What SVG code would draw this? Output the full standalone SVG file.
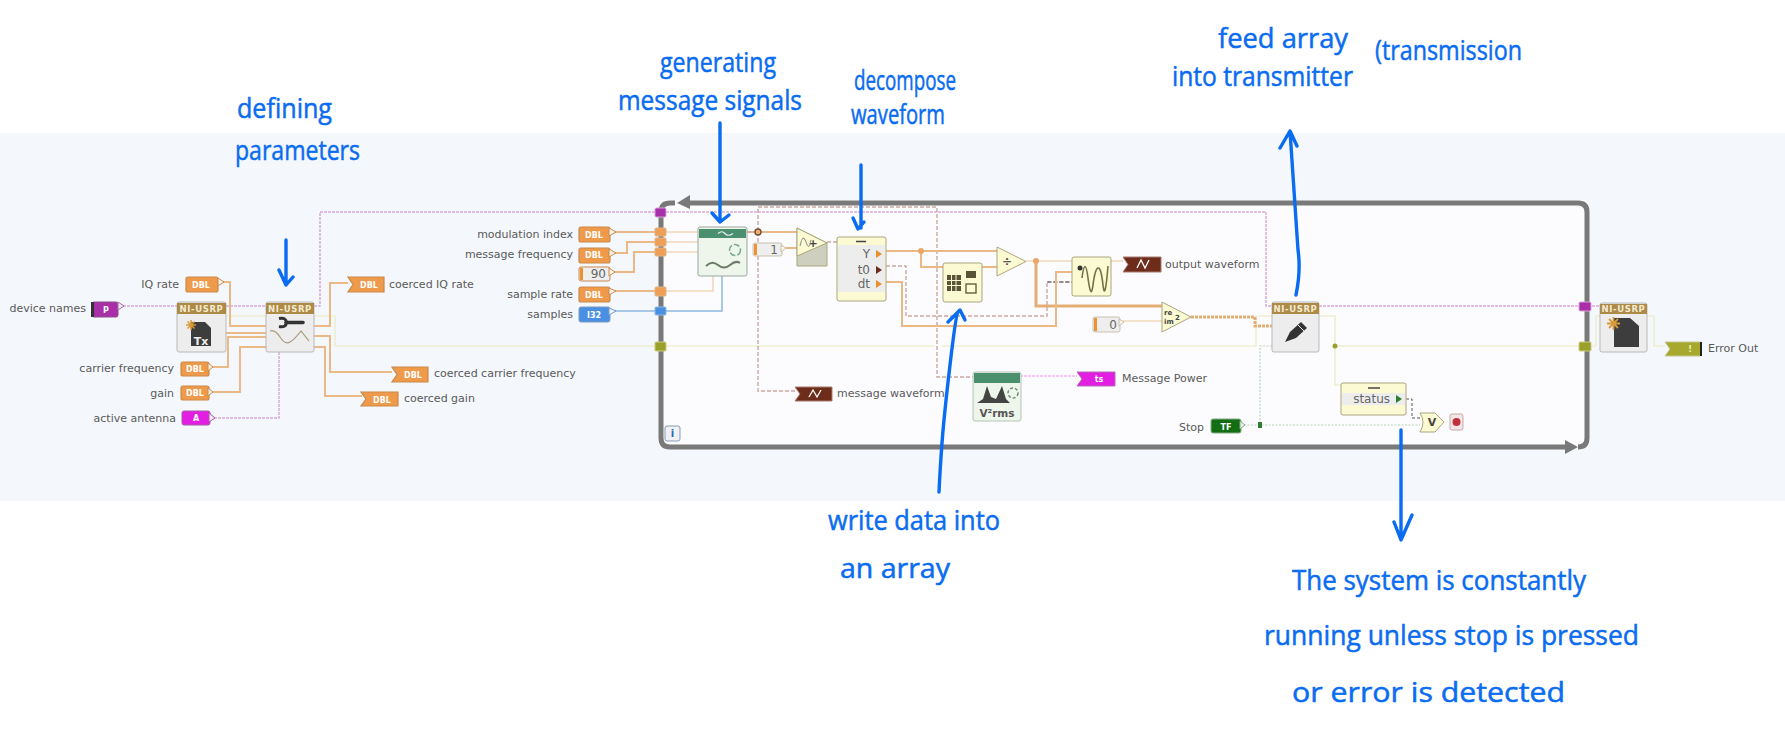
<svg xmlns="http://www.w3.org/2000/svg" width="1785" height="756" viewBox="0 0 1785 756">
<style>
.lb{font:11px "DejaVu Sans",sans-serif;fill:#5a5a5a}
.ctl{stroke-width:1.2}
.o{fill:#ee9a4a;stroke:#c98a4c}
.ct{font:bold 8px "DejaVu Sans",sans-serif;fill:#fff;text-anchor:middle}
.w{fill:none}
.or{stroke:#ebb985;stroke-width:2}
.or2{stroke:#e4ad74;stroke-width:3}
.ol{stroke:#f0d8bc;stroke-width:1.6}
.pu{stroke:#dcaadc;stroke-width:1.5;stroke-dasharray:3 1}
.ye{stroke:#eeeed2;stroke-width:1.6}
.br{stroke:#c9a8a0;stroke-width:1.4;stroke-dasharray:4 2}
.gr{stroke:#b7d4b7;stroke-width:1.2;stroke-dasharray:2 1.5}
.bl{stroke:#8fb6e0;stroke-width:1.5}
.hd{fill:#ad8b46}
.ht{font:bold 8.5px "DejaVu Sans",sans-serif;fill:#f4ead2;text-anchor:middle;letter-spacing:.6px}
.nd{fill:#ededed;stroke:#b9b9b9}
.yl{fill:#fbfad2;stroke:#a9a67e}
.hw{font:27px "Open Sans",sans-serif;fill:#0a6cf0;stroke:#0a6cf0;stroke-width:.5}
.ar{fill:none;stroke:#0a6cf0;stroke-width:3.4;stroke-linecap:round;stroke-linejoin:round}
.rw{font:12px "DejaVu Sans",sans-serif;fill:#666;text-anchor:end}
.tn{stroke:#e0b388;stroke-width:1;fill:#ee9f55}
</style>
<rect width="1785" height="756" fill="#fff"/>
<rect y="133" width="1785" height="368" fill="#f4f7fb"/>
<g id="loop">
<rect x="660" y="200" width="927" height="247" fill="#fcfcfe"/>
<path d="M675 203H670Q661 203 661 212V438Q661 447 670 447H1570M1578 447Q1587 447 1587 438V212Q1587 203 1578 203H690" fill="none" stroke="#797979" stroke-width="5"/>
<polygon points="677,203 690,195 690,209" fill="#797979"/>
<polygon points="1578,447 1565,440 1565,454" fill="#797979"/>
<rect x="665" y="426" width="15" height="15" rx="2" fill="#eef1f6" stroke="#8a9ab0"/>
<text x="672.5" y="437" style="font:bold 10px 'DejaVu Sans',sans-serif;fill:#2a66b0;text-anchor:middle">i</text>
</g>
<g id="connectors" class="w">
<path class="pu" d="M123 306H177M226 306H266M314 306H320V212H655"/>
<path class="pu" d="M666 212H1266V306H1272M1319 306H1579M1592 306H1600"/>
<path class="pu" d="M279 352V418H214"/>
<path class="ye" d="M226 316H266M314 316H335V346H655M666 346H935M942 346H1256V316H1272M1319 316H1335V385H1341M1335 346H1579M1592 346H1596V316H1600M1647 316H1654V346H1665"/>
<path class="or" d="M223 282H230V326H266M226 333H266M212 367H228V337H266M212 392H240V347H266"/>
<path class="or" d="M314 326H330V283H348M314 336H330V372H392M314 347H325V396H362"/>
<path class="or" d="M610 232H655M610 253H627V242H655M610 272H634V252H655M610 291H655"/>
<path class="ol" d="M666 232H698M666 242H698M666 252H698M666 291H713V276"/>
<path class="bl" d="M610 311H655M666 311H722V276"/>
<path class="or" d="M747 232H797M785 248H797"/>
<path class="br" d="M747 232H758V207H937V377H973M758 232V391H795M827 242H837"/>
<circle cx="758" cy="232" r="3" fill="#e8b27a" stroke="#7a4a33" stroke-width="1.4"/>
<path class="or" d="M886 251H997M921 251V267H943M982 267H997"/>
<circle cx="921" cy="251" r="3" fill="#e9a868"/>
<path class="ol" d="M1026 261H1072"/>
<path class="or2" d="M1036 261V306H1162"/>
<circle cx="1036" cy="261" r="3" fill="#e9a868"/>
<path class="br" d="M886 266H906V316H1047V282H1072"/>
<path d="M1047 282H1072" stroke="#555" stroke-width="1" stroke-dasharray="4 2"/>
<path class="or" d="M886 282H902V326H1056V272H1072"/>
<path class="ol" d="M1111 261H1123M1123 321H1162"/>
<path class="or2" stroke-dasharray="3 1" d="M1191 317H1255V326H1272"/>
<path class="pu" style="stroke:#f0b4f0" d="M1020 376H1077"/>
<path class="gr" d="M1272 346H1260V425"/>
<path class="gr" d="M1244 425H1420"/>
<rect x="1258" y="422" width="4" height="6" fill="#2e7d32"/>
<path d="M1406 399H1412V418H1422" fill="none" stroke="#555" stroke-width="1" stroke-dasharray="3 2"/>
<circle cx="1335" cy="346" r="2.5" fill="#9aa02a"/>
</g>
<g id="tunnels">
<rect x="655" y="208" width="11" height="9" rx="1.5" fill="#a82fa8" stroke="#d9a0d9"/>
<rect class="tn" x="655" y="228" width="11" height="8" rx="1"/>
<rect class="tn" x="655" y="238" width="11" height="8" rx="1"/>
<rect class="tn" x="655" y="248" width="11" height="8" rx="1"/>
<rect class="tn" x="655" y="287" width="11" height="9" rx="1"/>
<rect x="655" y="307" width="11" height="8" rx="1" fill="#4a90e2" stroke="#8fb6e0"/>
<rect x="655" y="342" width="11" height="9" rx="1" fill="#9aa02a" stroke="#c9cc80"/>
<rect x="1579" y="302" width="12" height="9" rx="1.5" fill="#a82fa8" stroke="#d9a0d9"/>
<rect x="1579" y="342" width="12" height="9" rx="1" fill="#9aa02a" stroke="#c9cc80"/>
</g>
<g id="n-device-names"><text class="lb" x="86" y="312" text-anchor="end">device names</text><rect x="92" y="302" width="26" height="15" rx="2" fill="#a82fa8" stroke="#8d4f8d"/><rect x="91" y="302" width="3" height="15" fill="#333"/><polygon points="118,302 124,306 118,310" fill="#f3e9f3" stroke="#a76aa7"/><text class="ct" x="106" y="313">P</text></g>
<g id="n-iq-rate"><text class="lb" x="179" y="288" text-anchor="end">IQ rate</text><rect class="ctl o" x="186" y="277" width="32" height="15" rx="2"/><polygon points="218,278 224,282 218,286" fill="#fdf3e6" stroke="#c98a4c"/><text class="ct" x="201" y="288">DBL</text></g>
<g id="n-carrier"><text class="lb" x="174" y="372" text-anchor="end">carrier frequency</text><rect class="ctl o" x="181" y="362" width="28" height="14" rx="2"/><polygon points="208,363 213,367 208,371" fill="#fdf3e6" stroke="#c98a4c"/><text class="ct" x="195" y="372">DBL</text></g>
<g id="n-gain"><text class="lb" x="174" y="397" text-anchor="end">gain</text><rect class="ctl o" x="181" y="386" width="28" height="14" rx="2"/><polygon points="208,388 213,392 208,396" fill="#fdf3e6" stroke="#c98a4c"/><text class="ct" x="195" y="396">DBL</text></g>
<g id="n-antenna"><text class="lb" x="176" y="422" text-anchor="end">active antenna</text><rect x="182" y="411" width="28" height="14" rx="2" fill="#e31ee3" stroke="#a65aa6"/><polygon points="209,413 215,418 209,422" fill="#fbe6fb" stroke="#a65aa6"/><text class="ct" x="196" y="421">A</text></g>
<g id="n-usrp-open"><rect class="nd" x="177" y="302" width="49" height="50" rx="2"/><rect class="hd" x="177" y="303" width="49" height="11"/><text class="ht" x="201.5" y="312">NI-USRP</text><path d="M191 322H205L211 328V346H191Z" fill="#3d3d3d"/><path d="M186 325H196M191 320V330M187.500 321.500L194.500 328.500M194.500 321.500L187.500 328.500" stroke="#d79b3a" stroke-width="1.5"/><text x="201" y="345" style="font:bold 11px 'DejaVu Sans',sans-serif;fill:#eee;text-anchor:middle">Tx</text></g>
<g id="n-usrp-config"><rect class="nd" x="266" y="302" width="48" height="50" rx="2"/><rect class="hd" x="266" y="303" width="48" height="11"/><text class="ht" x="290" y="312">NI-USRP</text><path d="M286 322.500H303" stroke="#333" stroke-width="3.500" stroke-linecap="round"/><path d="M279 318.500Q286 317 286.500 322.500Q286 328 279 326.500" stroke="#333" stroke-width="3" fill="none"/><path d="M270 331Q275 329 280 337T290 342T301 331L309 341" fill="none" stroke="#a59c78" stroke-width="1.200"/></g>
<g id="n-coerced-iq"><polygon class="ctl o" points="348,277 384,277 384,292 348,292 353,284.5"/><text class="ct" x="369" y="288">DBL</text><text class="lb" x="389" y="288">coerced IQ rate</text></g>
<g id="n-coerced-carrier"><polygon class="ctl o" points="392,367 428,367 428,382 392,382 397,374.5"/><text class="ct" x="413" y="378">DBL</text><text class="lb" x="434" y="377">coerced carrier frequency</text></g>
<g id="n-coerced-gain"><polygon class="ctl o" points="361,392 398,392 398,406 361,406 366,399"/><text class="ct" x="382" y="403">DBL</text><text class="lb" x="404" y="402">coerced gain</text></g>
<g id="n-mod"><text class="lb" x="573" y="238" text-anchor="end">modulation index</text><rect class="ctl o" x="579" y="227" width="31" height="15" rx="2"/><polygon points="609,228 616,232 609,236" fill="#fdf3e6" stroke="#c98a4c"/><text class="ct" x="594" y="238">DBL</text></g>
<g id="n-msg"><text class="lb" x="573" y="258" text-anchor="end">message frequency</text><rect class="ctl o" x="579" y="248" width="31" height="15" rx="2"/><polygon points="609,249 616,253 609,257" fill="#fdf3e6" stroke="#c98a4c"/><text class="ct" x="594" y="258">DBL</text></g>
<g id="n-90"><rect x="579" y="267" width="31" height="14" rx="2" fill="#eeeeee" stroke="#c98a4c"/><rect x="580" y="268" width="3" height="12" fill="#ee9133"/><polygon points="609,268 615,272 609,276" fill="#fdf3e6" stroke="#c98a4c"/><text x="606" y="278" class="rw">90</text></g>
<g id="n-sample-rate"><text class="lb" x="573" y="298" text-anchor="end">sample rate</text><rect class="ctl o" x="579" y="287" width="31" height="15" rx="2"/><polygon points="609,288 616,291 609,295" fill="#fdf3e6" stroke="#c98a4c"/><text class="ct" x="594" y="298">DBL</text></g>
<g id="n-samples"><text class="lb" x="573" y="318" text-anchor="end">samples</text><rect x="579" y="307" width="31" height="15" rx="2" fill="#4a90e2" stroke="#7a9cc4"/><polygon points="609,308 616,311 609,315" fill="#eef5fd" stroke="#7a9cc4"/><text class="ct" x="594" y="318">I32</text></g>
<g id="n-generator"><rect x="698" y="227" width="49" height="49" rx="2" fill="#eef5ea" stroke="#9aa7a0"/><rect x="699" y="229" width="47" height="9" fill="#4a8f6e"/><path d="M718 233.500Q722 230 725 233.500T733 233.500" fill="none" stroke="#eef" stroke-width="1.2"/><circle cx="735" cy="250" r="5.500" fill="none" stroke="#7aa892" stroke-width="1.5" stroke-dasharray="6 2"/><path d="M706 266Q712 260 718 265T730 265T740 263" fill="none" stroke="#6b7d66" stroke-width="2"/></g>
<g id="n-const-1"><rect x="753" y="243" width="29" height="13" rx="2" fill="#eeeeee" stroke="#c9c0b0"/><rect x="754" y="244" width="3" height="11" fill="#ee9133"/><polygon points="781,245 786,248 781,252" fill="#fdf3e6" stroke="#c9c0b0"/><text x="778" y="254" class="rw">1</text></g>
<g id="n-add"><path d="M797 228L827 243V266H797Z" fill="#cfcfbf" stroke="#a9a67e"/><polygon class="yl" points="797,228 827,243 797,256"/><text x="813" y="247" style="font:bold 11px 'DejaVu Sans',sans-serif;fill:#444;text-anchor:middle">+</text><path d="M800 246Q803 232 806 242T811 240" fill="none" stroke="#888" stroke-width="1"/></g>
<g id="n-unbundle"><rect x="837" y="237" width="49" height="64" rx="2" class="yl"/><rect x="838" y="245" width="47" height="47" fill="#ededed"/><path d="M856 241.500H866" stroke="#444" stroke-width="1.5"/><text x="870" y="258" class="rw">Y</text><text x="870" y="274" class="rw">t0</text><text x="870" y="288" class="rw">dt</text><polygon points="876,250 882,254 876,258" fill="#e8902f"/><polygon points="876,266 882,270 876,274" fill="#6b2c1d"/><polygon points="876,280 882,284 876,288" fill="#e8902f"/></g>
<g id="n-build-array"><rect x="943" y="263" width="39" height="39" rx="2" class="yl"/><rect x="947" y="275" width="14" height="16" fill="#5a5338"/><path d="M947 280.500H961M947 285.500H961M951.500 275V291M956 275V291" stroke="#fbfad2" stroke-width="1"/><rect x="966" y="271" width="10" height="7" fill="#5a5338"/><rect x="966" y="284" width="10" height="9" fill="none" stroke="#5a5338" stroke-width="1.3"/></g>
<g id="n-divide"><polygon class="yl" points="997,247 1026,261.500 997,276"/><text x="1007" y="266" style="font:bold 12px 'DejaVu Sans',sans-serif;fill:#555;text-anchor:middle">÷</text></g>
<g id="n-wave"><rect x="1072" y="257" width="39" height="39" rx="2" class="yl"/><circle cx="1080" cy="268" r="2.500" fill="#333"/><path d="M1082 278Q1085 255 1088 278T1093 285T1098 268T1103 285T1108 266" fill="none" stroke="#777044" stroke-width="1.6"/></g>
<g id="n-output"><polygon points="1123,257 1161,257 1161,272 1123,272 1128,264.500" fill="#6e2d1a" stroke="#a87b6e"/><path d="M1137 268L1141 260L1145 268L1149 260" fill="none" stroke="#fff" stroke-width="1.3"/><text class="lb" x="1165" y="268">output waveform</text></g>
<g id="n-const-0"><rect x="1093" y="317" width="27" height="15" rx="2" fill="#eeeeee" stroke="#c9c0b0"/><rect x="1094" y="318" width="3" height="13" fill="#ee9133"/><polygon points="1119,319 1124,322 1119,326" fill="#fdf3e6" stroke="#c9c0b0"/><text x="1117" y="329" class="rw">0</text></g>
<g id="n-re-im"><polygon class="yl" points="1162,302 1191,317 1162,332"/><text x="1164" y="315" style="font:bold 7px 'DejaVu Sans',sans-serif;fill:#444">re</text><text x="1164" y="324" style="font:bold 7px 'DejaVu Sans',sans-serif;fill:#444">im</text><text x="1175" y="320" style="font:bold 7px 'DejaVu Sans',sans-serif;fill:#444">2</text></g>
<g id="n-usrp-write"><rect class="nd" x="1272" y="302" width="47" height="50" rx="2"/><rect class="hd" x="1272" y="303" width="47" height="11"/><text class="ht" x="1295.500" y="312">NI-USRP</text><path d="M1285 342L1290 332L1301 322L1307 328L1296 338Z" fill="#333"/><path d="M1298 325L1304 331" stroke="#ededed" stroke-width="1"/></g>
<g id="n-usrp-close"><rect class="nd" x="1600" y="303" width="47" height="49" rx="2"/><rect class="hd" x="1600" y="304" width="47" height="10"/><text class="ht" x="1623.500" y="312">NI-USRP</text><path d="M1614 318H1630L1639 326V347H1614Z" fill="#3d3d3d"/><path d="M1609 319L1618 328M1618 319L1609 328M1613.500 317V330M1607 323.500H1620" stroke="#d79b3a" stroke-width="1.800"/></g>
<g id="n-error-out"><polygon points="1665,342 1701,342 1701,356 1665,356 1670,349" fill="#a6a92e" stroke="#c4c68a"/><rect x="1700" y="342" width="2" height="14" fill="#222"/><text class="ct" x="1690" y="352" style="fill:#f7f7c0">!</text><text class="lb" x="1708" y="352">Error Out</text></g>
<g id="n-msg-waveform"><polygon points="795,387 832,387 832,401 795,401 800,394" fill="#6e2d1a" stroke="#a87b6e"/><path d="M809 397L813 390L817 397L821 390" fill="none" stroke="#fff" stroke-width="1.300"/><text class="lb" x="837" y="397">message waveform</text></g>
<g id="n-rms"><rect x="973" y="372" width="48" height="49" rx="2" fill="#eef5ea" stroke="#b5c4ba"/><rect x="974" y="373" width="46" height="10" fill="#4a8f6e"/><path d="M977 403L983 399L987 386L991 397L996 399L1002 386L1006 399L1010 403Z" fill="#444"/><circle cx="1013" cy="393" r="5" fill="none" stroke="#6b8d7a" stroke-width="1.500" stroke-dasharray="3 2"/><text x="997" y="417" style="font:bold 10.500px 'DejaVu Sans',sans-serif;fill:#555;text-anchor:middle">V²rms</text></g>
<g id="n-msg-power"><polygon points="1077,372 1115,372 1115,386 1077,386 1082,379" fill="#e31ee3" stroke="#b56bb5"/><text class="ct" x="1099" y="382">ts</text><text class="lb" x="1122" y="382">Message Power</text></g>
<g id="n-status"><rect x="1341" y="383" width="65" height="32" rx="2" class="yl"/><rect x="1342" y="393" width="63" height="12" fill="#ededed"/><path d="M1368 388H1380" stroke="#444" stroke-width="1.500"/><text x="1390" y="403" class="rw">status</text><polygon points="1396,395 1402,399 1396,403" fill="#2e7d32"/></g>
<g id="n-stop"><text class="lb" x="1204" y="431" text-anchor="end">Stop</text><rect x="1211" y="419" width="30" height="14" rx="2" fill="#136d13" stroke="#87ab87"/><polygon points="1240,421 1245,425 1240,429" fill="#e8f3e8" stroke="#87ab87"/><text class="ct" x="1226" y="430">TF</text></g>
<g id="n-or"><path d="M1420 413H1435L1444 422L1435 432H1420Q1426 422 1420 413Z" class="yl"/><text x="1432" y="426" style="font:bold 11px 'DejaVu Sans',sans-serif;fill:#444;text-anchor:middle">V</text></g>
<g id="n-stop-term"><rect x="1450" y="414" width="13" height="16" rx="2" fill="#f4e6e6" stroke="#c5a9a9"/><circle cx="1456.500" cy="422" r="4" fill="#c0303a"/></g>
<g id="annotations">
<text class="hw" x="237" y="118" textLength="95" lengthAdjust="spacingAndGlyphs">defining</text>
<text class="hw" x="235" y="160" textLength="125" lengthAdjust="spacingAndGlyphs">parameters</text>
<path class="ar" d="M286 240V285M279 270L286 285L293 277"/>
<text class="hw" x="660" y="72" textLength="116" lengthAdjust="spacingAndGlyphs">generating</text>
<text class="hw" x="618" y="110" textLength="184" lengthAdjust="spacingAndGlyphs">message signals</text>
<path class="ar" d="M720 123V222M712 213L720 222L729 215"/>
<text class="hw" x="854" y="90" textLength="102" lengthAdjust="spacingAndGlyphs">decompose</text>
<text class="hw" x="851" y="124" textLength="94" lengthAdjust="spacingAndGlyphs">waveform</text>
<path class="ar" d="M861 165V228M853 218L858 229L864 222"/>
<text class="hw" x="1218" y="48" textLength="130" lengthAdjust="spacingAndGlyphs">feed array</text>
<text class="hw" x="1172" y="86" textLength="181" lengthAdjust="spacingAndGlyphs">into transmitter</text>
<text class="hw" x="1375" y="60" textLength="147" lengthAdjust="spacingAndGlyphs">(transmission</text>
<path class="ar" d="M1296 295Q1301 270 1298 250L1290 131M1280 148L1290 131L1297 146"/>
<text class="hw" x="828" y="530" textLength="172" lengthAdjust="spacingAndGlyphs">write data into</text>
<text class="hw" x="840" y="578" textLength="110" lengthAdjust="spacingAndGlyphs">an array</text>
<path class="ar" d="M939 492Q940 470 942 443T950 365T958 312M948 322L960 310L965 320"/>
<text class="hw" x="1292" y="590" textLength="294" lengthAdjust="spacingAndGlyphs">The system is constantly</text>
<text class="hw" x="1264" y="645" textLength="375" lengthAdjust="spacingAndGlyphs">running unless stop is pressed</text>
<text class="hw" x="1292" y="702" textLength="273" lengthAdjust="spacingAndGlyphs">or error is detected</text>
<path class="ar" d="M1401 430V540M1394 522L1401 540L1412 515"/>
</g>
</svg>
